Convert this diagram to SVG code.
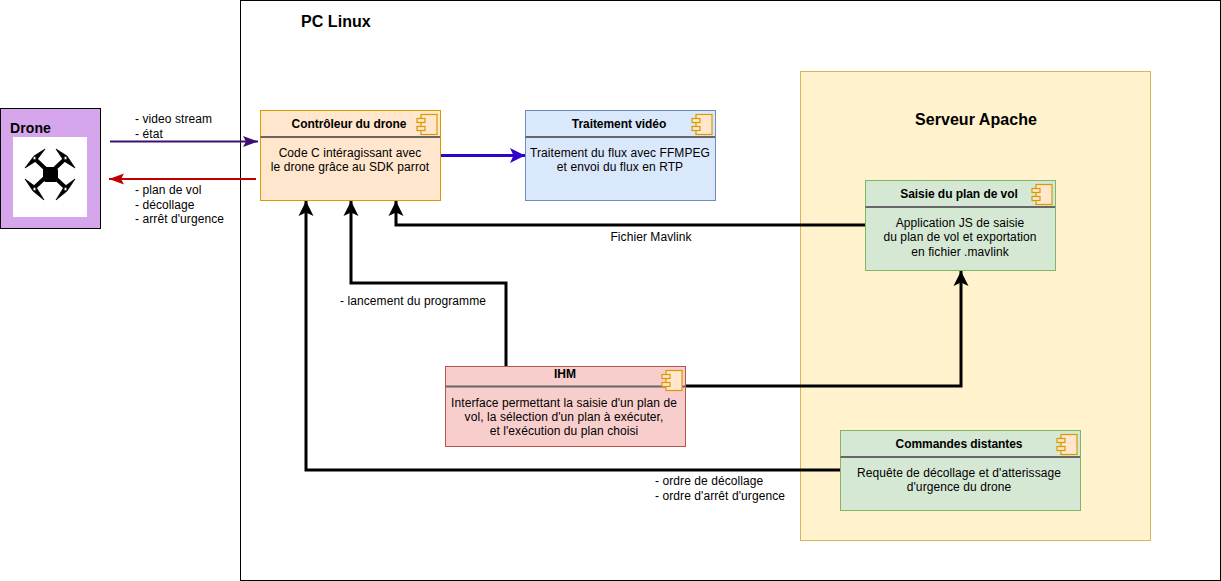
<svg xmlns="http://www.w3.org/2000/svg" width="1221" height="581" viewBox="0 0 1221 581">
<style>
text{font-family:"Liberation Sans",Arial,sans-serif;font-size:12px;fill:#000;letter-spacing:.08px}
.m{text-anchor:middle}
.b{font-weight:bold;letter-spacing:-.06px}
.t{font-weight:bold;font-size:16px;letter-spacing:.05px}
.box{stroke-width:1}
.sep{stroke:#666;stroke-width:2;fill:none}
.ic{fill:#ffe6cc;stroke:#d79b00;stroke-width:1.200}
.c{fill:none;stroke:#000;stroke-width:3}
</style>
<defs>
<marker id="ab" markerUnits="userSpaceOnUse" markerWidth="16" markerHeight="16" viewBox="0 0 16 16" refX="15" refY="8" orient="auto"><path d="M0 0.5L15 8L0 15.5L3.5 8Z" fill="#000"/></marker>
<marker id="ap" markerUnits="userSpaceOnUse" markerWidth="16" markerHeight="12" viewBox="0 0 16 12" refX="15" refY="6" orient="auto"><path d="M0 0.5L15 6L0 11.5L3 6Z" fill="#3b1070"/></marker>
<marker id="ar" markerUnits="userSpaceOnUse" markerWidth="16" markerHeight="12" viewBox="0 0 16 12" refX="15" refY="6" orient="auto"><path d="M0 0.5L15 6L0 11.5L3 6Z" fill="#c00000"/></marker>
<marker id="abl" markerUnits="userSpaceOnUse" markerWidth="16" markerHeight="16" viewBox="0 0 16 16" refX="15" refY="8" orient="auto"><path d="M0 0.5L15 8L0 15.5L3.5 8Z" fill="#3300cc"/></marker>
<g id="icon"><rect class="ic" x="4.500" y="0.500" width="16" height="20"/><rect class="ic" x="0.500" y="4.500" width="8" height="4"/><rect class="ic" x="0.500" y="12.500" width="8" height="4"/></g>
</defs>
<rect id="pc-frame" x="240.500" y="0.500" width="980" height="580" fill="#fff" stroke="#000"/>
<text class="t" x="301" y="27">PC Linux</text>
<g id="serveur"><rect x="800.500" y="71.500" width="350" height="469" fill="#fff2cc" stroke="#d6b656"/><text class="t m" x="976" y="125">Serveur Apache</text></g>
<g id="drone">
<rect x="0.500" y="108.500" width="100" height="120" fill="#d5a6ec" stroke="#000"/>
<text x="10" y="133" style="font-weight:bold;font-size:14px;letter-spacing:.1px">Drone</text>
<rect x="13" y="137" width="74" height="80" fill="#fff"/>
<path d="M35 159L66 188M65 159L34 188" stroke="#000" stroke-width="4" fill="none"/>
<path d="M25 168L34 156L45 149L36 161ZM56 149L67 156L75 168L64 161ZM25 179L33 191L44 200L36 187ZM56 200L67 191L75 179L64 187Z" fill="#000" stroke="#000" stroke-width=".8"/>
<path d="M45 167H56L58 170V179L56 182H45L43 179V170Z" fill="#000"/>
<g fill="#fff" stroke="#333" stroke-width=".8"><circle cx="34.500" cy="158" r="1.500"/><circle cx="65.500" cy="158" r="1.500"/><circle cx="34.500" cy="189" r="1.500"/><circle cx="65.500" cy="189" r="1.500"/></g>
</g>
<g id="connectors">
<path d="M110 141.500H258" fill="none" stroke="#3b1070" stroke-width="2" marker-end="url(#ap)"/>
<path d="M256 179H109" fill="none" stroke="#c00000" stroke-width="2" marker-end="url(#ar)"/>
<path d="M441 155.500H525" fill="none" stroke="#3300cc" stroke-width="3" marker-end="url(#abl)"/>
<path class="c" d="M865 225H396V201" marker-end="url(#ab)"/>
<path class="c" d="M506 366V283H351V201" marker-end="url(#ab)"/>
<path class="c" d="M686 386H961V271" marker-end="url(#ab)"/>
<path class="c" d="M840 470H306V201" marker-end="url(#ab)"/>
</g>
<g id="edge-labels">
<text x="135" y="123">- video stream</text><text x="135" y="138">- état</text>
<text x="135" y="194">- plan de vol</text><text x="135" y="209">- décollage</text><text x="135" y="223">- arrêt d'urgence</text>
<text class="m" x="651" y="241">Fichier Mavlink</text>
<text x="340" y="305">- lancement du programme</text>
<text x="655" y="485">- ordre de décollage</text><text x="655" y="500">- ordre d'arrêt d'urgence</text>
</g>
<g id="controleur">
<rect class="box" x="260.500" y="110.500" width="180" height="90" fill="#ffe6cc" stroke="#d79b00"/>
<path class="sep" d="M260.500 137H440"/>
<use href="#icon" x="416.500" y="114"/>
<text class="b m" x="349" y="128">Contrôleur du drone</text>
<text class="m" x="350" y="157">Code C intéragissant avec</text>
<text class="m" x="350" y="171">le drone grâce au SDK parrot</text>
</g>
<g id="traitement">
<rect class="box" x="525.500" y="110.500" width="190" height="90" fill="#dae8fc" stroke="#6c8ebf"/>
<path class="sep" d="M525.500 137H715"/>
<use href="#icon" x="691.500" y="114"/>
<text class="b m" x="619" y="128">Traitement vidéo</text>
<text class="m" x="620" y="157">Traitement du flux avec FFMPEG</text>
<text class="m" x="620" y="171">et envoi du flux en RTP</text>
</g>
<g id="saisie">
<rect class="box" x="865.500" y="180.500" width="190" height="90" fill="#d5e8d4" stroke="#82b366"/>
<path class="sep" d="M865.500 207H1055"/>
<use href="#icon" x="1031.500" y="184"/>
<text class="b m" x="959" y="198">Saisie du plan de vol</text>
<text class="m" x="960" y="227">Application JS de saisie</text>
<text class="m" x="960" y="241">du plan de vol et exportation</text>
<text class="m" x="960" y="256">en fichier .mavlink</text>
</g>
<g id="ihm">
<rect class="box" x="445.500" y="366.500" width="240" height="80" fill="#f8cecc" stroke="#b85450"/>
<path class="sep" d="M445.500 386.500H685"/>
<use href="#icon" x="661.500" y="370"/>
<text class="b m" x="565" y="378">IHM</text>
<text class="m" x="564" y="407">Interface permettant la saisie d'un plan de</text>
<text class="m" x="564" y="421">vol, la sélection d'un plan à exécuter,</text>
<text class="m" x="564" y="435">et l'exécution du plan choisi</text>
</g>
<g id="commandes">
<rect class="box" x="840.500" y="430.500" width="240" height="80" fill="#d5e8d4" stroke="#82b366"/>
<path class="sep" d="M840.500 457H1080"/>
<use href="#icon" x="1056.500" y="434"/>
<text class="b m" x="959" y="448">Commandes distantes</text>
<text class="m" x="959" y="477">Requête de décollage et d'atterissage</text>
<text class="m" x="959" y="491">d'urgence du drone</text>
</g>
</svg>
